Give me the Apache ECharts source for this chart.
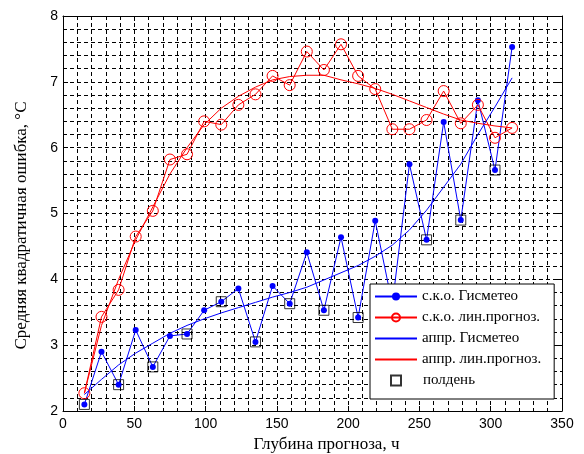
<!DOCTYPE html>
<html><head><meta charset="utf-8">
<script src="https://cdn.jsdelivr.net/npm/echarts@6/dist/echarts.min.js"></script>
<style>html,body{margin:0;padding:0;background:#fff}#c{width:584px;height:454px}</style>
</head><body><div id="c"></div>
<script>
// Forecast lead times, hours
const hours = [15,27,39,51,63,75,87,99,111,123,135,147,159,171,183,195,207,219,231,243,255,267,279,291,303,315];
// RMSE of Gismeteo forecast
const gismeteo = [2.10,2.90,2.40,3.23,2.67,3.14,3.17,3.53,3.66,3.86,3.05,3.90,3.63,4.41,3.53,4.64,3.42,4.89,3.62,5.75,4.60,6.39,4.90,6.72,5.66,7.53];
// RMSE of linear forecast
const linForecast = [2.27,3.43,3.84,4.65,5.04,5.82,5.90,6.40,6.35,6.65,6.81,7.09,6.95,7.46,7.18,7.57,7.09,6.89,6.28,6.28,6.42,6.86,6.37,6.65,6.15,6.30];
// Approximation of Gismeteo RMSE
const apprGismeteo = [2.25,2.48,2.70,2.88,3.03,3.18,3.30,3.40,3.49,3.57,3.65,3.73,3.80,3.88,3.99,4.10,4.21,4.35,4.52,4.75,5.05,5.40,5.75,6.20,6.62,7.06];
// Approximation of linear forecast RMSE
const apprLin = [2.27,3.30,4.00,4.60,5.10,5.60,6.00,6.35,6.60,6.78,6.92,7.03,7.08,7.10,7.10,7.03,6.97,6.90,6.81,6.71,6.61,6.51,6.42,6.37,6.33,6.30];
// Noon lead times
const noonHours = [15,39,63,87,111,135,159,183,207,231,255,279,303];
const xTicks = [0,50,100,150,200,250,300,350];
const yTicks = [2,3,4,5,6,7,8];

const names = ['с.к.о. Гисметео','с.к.о. лин.прогноз.','аппр. Гисметео','аппр. лин.прогноз.','полдень'];
const pairs = arr => hours.map((h,i)=>[h, arr[i]]);
const noonData = noonHours.map(h => [h, gismeteo[hours.indexOf(h)]]);

const dash = {color:'#000', width:1, type:[4,3]};
const labelFont = {fontFamily:'Liberation Sans, Arial, sans-serif', fontSize:14, color:'#000'};
const titleFont = {fontFamily:'Liberation Serif, Times New Roman, serif', fontSize:17, color:'#000'};
const legendFont = {fontFamily:'Liberation Serif, Times New Roman, serif', fontSize:15, color:'#000'};

function xAx(pos, show) {
  return {
    type:'value', position:pos, min:xTicks[0], max:xTicks[xTicks.length-1], interval:50,
    axisLine:{show:true, onZero:false, lineStyle:{color:'#000', width:1}},
    axisTick:{show:true, inside:true, length:5, lineStyle:{color:'#000'}},
    axisLabel:{show:show, margin:6, ...labelFont},
    splitLine:{show:show, lineStyle:dash},
    minorTick:{show:show, splitNumber:5, length:0},
    minorSplitLine:{show:show, lineStyle:dash},
    name: show ? 'Глубина прогноза, ч' : '', nameLocation:'middle', nameGap:24,
    nameTextStyle:{...titleFont, padding:[0,0,0,28]}
  };
}
function yAx(pos, show) {
  return {
    type:'value', position:pos, min:yTicks[0], max:yTicks[yTicks.length-1], interval:1,
    axisLine:{show:true, onZero:false, lineStyle:{color:'#000', width:1}},
    axisTick:{show:true, inside:true, length:5, lineStyle:{color:'#000'}},
    axisLabel:{show:show, margin:5, ...labelFont},
    splitLine:{show:show, lineStyle:dash},
    minorTick:{show:show, splitNumber:5, length:0},
    minorSplitLine:{show:show, lineStyle:dash},
    name: show ? 'Средняя квадратичная ошибка, °С' : '', nameLocation:'middle', nameGap:33,
    nameTextStyle:{...titleFont, padding:[0,24,0,0]}
  };
}

const chart = echarts.init(document.getElementById('c'), null, {renderer:'canvas'});
chart.setOption({
  animation:false,
  backgroundColor:'#fff',
  grid:{left:63, right:22, top:16, bottom:43, containLabel:false, outerBoundsMode:'none'},
  xAxis:[xAx('bottom', true), xAx('top', false)],
  yAxis:[yAx('left', true), yAx('right', false)],
  legend:[{
    orient:'vertical', left:370, top:284,
    itemWidth:42, itemHeight:10, itemGap:6,
    padding:[5,13,32,4],
    backgroundColor:'#fff', borderColor:'#000', borderWidth:1, borderRadius:0,
    textStyle:{...legendFont, padding:[0,0,0,0]},
    data:[
      {name:names[0]},
      {name:names[1]},
      {name:names[2], itemStyle:{opacity:0}},
      {name:names[3], itemStyle:{opacity:0}}
    ],
    z:10
  },{
    orient:'vertical', left:390, top:373,
    itemWidth:10, itemHeight:10, itemGap:0,
    padding:[0,0,0,0],
    textStyle:{...legendFont, padding:[0,0,0,17]},
    data:[{name:names[4]}],
    z:11
  }],
  series:[
    {name:names[0], type:'line', data:pairs(gismeteo), symbol:'circle', symbolSize:6,
     lineStyle:{color:'#0000ff', width:1}, itemStyle:{color:'#0000ff'}},
    {name:names[1], type:'line', data:pairs(linForecast), symbol:'circle', symbolSize:11,
     lineStyle:{color:'#ff0000', width:1}, itemStyle:{color:'rgba(255,255,255,0)', borderColor:'#ff0000', borderWidth:1}},
    {name:names[2], type:'line', data:pairs(apprGismeteo), symbol:'none',
     lineStyle:{color:'#0000ff', width:1}, itemStyle:{color:'#0000ff'}},
    {name:names[3], type:'line', data:pairs(apprLin), symbol:'none',
     lineStyle:{color:'#ff0000', width:1}, itemStyle:{color:'#ff0000'}},
    {name:names[4], type:'scatter', data:noonData, symbol:'rect', symbolSize:10,
     itemStyle:{color:'rgba(0,0,0,0)', borderColor:'#000', borderWidth:1}, z:3}
  ]
});
</script></body></html>
